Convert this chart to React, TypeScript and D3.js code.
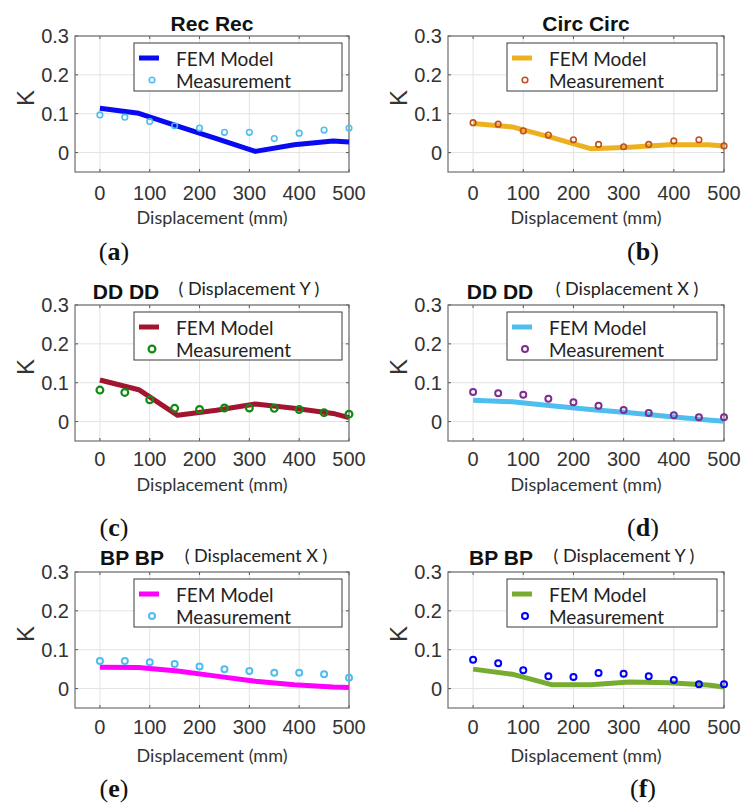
import React from 'react';
import * as d3 from 'd3';

// ---------- data ----------
const measX = [0, 50, 100, 150, 200, 250, 300, 350, 400, 450, 500];
const femX = [0, 78, 156, 234, 312, 390, 468, 500];
const xTicks = [0, 100, 200, 300, 400, 500];
const yTicks = [0, 0.1, 0.2, 0.3];
const yTickLabels = ['0', '0.1', '0.2', '0.3'];

const femRec = [0.114, 0.101, 0.068, 0.036, 0.003, 0.020, 0.030, 0.027];
const measRec = [0.097, 0.091, 0.080, 0.069, 0.063, 0.052, 0.052, 0.036, 0.050, 0.058, 0.063];

const femCirc = [0.075, 0.066, 0.039, 0.010, 0.014, 0.020, 0.020, 0.017];
const measCirc = [0.077, 0.073, 0.056, 0.045, 0.033, 0.021, 0.015, 0.021, 0.030, 0.033, 0.017];

const femDDY = [0.107, 0.082, 0.016, 0.029, 0.045, 0.034, 0.021, 0.010];
const measDDY = [0.081, 0.075, 0.056, 0.034, 0.031, 0.035, 0.035, 0.034, 0.031, 0.023, 0.019];

const femDDX = [0.055, 0.051, 0.041, 0.031, 0.023, 0.013, 0.004, 0.001];
const measDDX = [0.076, 0.073, 0.069, 0.059, 0.050, 0.041, 0.030, 0.022, 0.016, 0.011, 0.011];

const femBPX = [0.055, 0.054, 0.045, 0.032, 0.019, 0.010, 0.004, 0.003];
const measBPX = [0.071, 0.071, 0.068, 0.063, 0.057, 0.050, 0.045, 0.041, 0.041, 0.037, 0.028];

const femBPY = [0.050, 0.037, 0.010, 0.010, 0.017, 0.015, 0.009, 0.004];
const measBPY = [0.074, 0.065, 0.047, 0.032, 0.030, 0.040, 0.038, 0.032, 0.022, 0.011, 0.011];

const legendLabels = ['FEM Model', 'Measurement'];
const xLabel = 'Displacement (mm)';
const yLabel = 'K';

// ---------- layout / style ----------
const cols = [
  { left: 75, right: 349, captionX: 114 },
  { left: 448, right: 724, captionX: 643 },
];
const rows = [
  { top: 36, bottom: 172, titleY: 23, subY: 23, tickY: 193, xlabelY: 217, captionY: 251 },
  { top: 305, bottom: 441, titleY: 291, subY: 288, tickY: 459, xlabelY: 484, captionY: 527 },
  { top: 572, bottom: 708, titleY: 557, subY: 555, tickY: 727, xlabelY: 755, captionY: 788 },
];

const panels = [
  { cap: 'a', row: 0, col: 0, title: 'Rec Rec', sub: '', titleX: 212, subX: 0, fem: femRec, meas: measRec, femColor: '#0a0af0', measColor: '#4dbeee', r: 2.8, sw: 1.6 },
  { cap: 'b', row: 0, col: 1, title: 'Circ Circ', sub: '', titleX: 586, subX: 0, fem: femCirc, meas: measCirc, femColor: '#edb120', measColor: '#c0501e', r: 2.8, sw: 1.6 },
  { cap: 'c', row: 1, col: 0, title: 'DD DD', sub: '( Displacement Y )', titleX: 126, subX: 249, fem: femDDY, meas: measDDY, femColor: '#a2142f', measColor: '#128a12', r: 3.4, sw: 2.2 },
  { cap: 'd', row: 1, col: 1, title: 'DD DD', sub: '( Displacement X )', titleX: 500, subX: 627, fem: femDDX, meas: measDDX, femColor: '#4dbeee', measColor: '#7e2f8e', r: 3.0, sw: 2.0 },
  { cap: 'e', row: 2, col: 0, title: 'BP BP', sub: '( Displacement X )', titleX: 132, subX: 256, fem: femBPX, meas: measBPX, femColor: '#ff00ff', measColor: '#4dbeee', r: 3.0, sw: 2.0 },
  { cap: 'f', row: 2, col: 1, title: 'BP BP', sub: '( Displacement Y )', titleX: 501, subX: 624, fem: femBPY, meas: measBPY, femColor: '#77ac30', measColor: '#0000ff', r: 3.0, sw: 2.0 },
];

const SANS = 'Liberation Sans, Arial, sans-serif';
const HUMAN = 'Lato, Carlito, Calibri, sans-serif';
const SERIF = 'Liberation Serif, Times New Roman, serif';

function Panel({ p }: { p: any }) {
  const c = cols[p.col];
  const r = rows[p.row];
  const x = d3.scaleLinear().domain([-50, 500]).range([c.left, c.right]);
  const y = d3.scaleLinear().domain([-0.05, 0.3]).range([r.bottom, r.top]);
  const femData = femX.map((v, i) => [v, p.fem[i]] as [number, number]);
  const line = d3
    .line<[number, number]>()
    .x((d) => x(d[0]))
    .y((d) => y(d[1]));
  const lx = c.left + 59;
  const lw = c.right - 7 - lx;
  const ly = r.top + 7;
  const lh = 48;
  const tick = 3;
  return (
    <g>
      {xTicks.map((t) => (
        <line key={'gx' + t} x1={x(t)} x2={x(t)} y1={r.top} y2={r.bottom} stroke="#e3e3e3" strokeWidth={1} />
      ))}
      {yTicks.map((t) => (
        <line key={'gy' + t} x1={c.left} x2={c.right} y1={y(t)} y2={y(t)} stroke="#e3e3e3" strokeWidth={1} />
      ))}
      {xTicks.map((t) => (
        <g key={'tx' + t}>
          <line x1={x(t)} x2={x(t)} y1={r.bottom} y2={r.bottom - tick} stroke="#555" />
          <line x1={x(t)} x2={x(t)} y1={r.top} y2={r.top + tick} stroke="#555" />
        </g>
      ))}
      {yTicks.map((t) => (
        <g key={'ty' + t}>
          <line x1={c.left} x2={c.left + tick} y1={y(t)} y2={y(t)} stroke="#555" />
          <line x1={c.right} x2={c.right - tick} y1={y(t)} y2={y(t)} stroke="#555" />
        </g>
      ))}
      <rect x={c.left} y={r.top} width={c.right - c.left} height={r.bottom - r.top} fill="none" stroke="#6e6e6e" strokeWidth={1.2} />
      <path d={line(femData) || ''} fill="none" stroke={p.femColor} strokeWidth={5} strokeLinejoin="round" />
      {measX.map((v, i) => (
        <circle key={'m' + i} cx={x(v)} cy={y(p.meas[i])} r={p.r} fill="none" stroke={p.measColor} strokeWidth={p.sw} />
      ))}
      <rect x={lx} y={ly} width={lw} height={lh} fill="#fff" stroke="#3a3a3a" strokeWidth={1} />
      <line x1={lx + 5} x2={lx + 25} y1={ly + 15} y2={ly + 15} stroke={p.femColor} strokeWidth={5} />
      <circle cx={lx + 18} cy={ly + 37} r={p.r} fill="none" stroke={p.measColor} strokeWidth={p.sw} />
      <text x={lx + 42} y={ly + 15} dominantBaseline="central" fontFamily={HUMAN} fontSize={19} fill="#222">{legendLabels[0]}</text>
      <text x={lx + 42} y={ly + 37} dominantBaseline="central" fontFamily={HUMAN} fontSize={19} fill="#222">{legendLabels[1]}</text>
      {xTicks.map((t) => (
        <text key={'xl' + t} x={x(t)} y={r.tickY} textAnchor="middle" dominantBaseline="central" fontFamily={SANS} fontSize={20} fill="#333">{t}</text>
      ))}
      {yTicks.map((t, i) => (
        <text key={'yl' + t} x={c.left - 6} y={y(t)} textAnchor="end" dominantBaseline="central" fontFamily={SANS} fontSize={20} fill="#333">{yTickLabels[i]}</text>
      ))}
      <text x={(x(-50) + x(500)) / 2} y={r.xlabelY} textAnchor="middle" dominantBaseline="central" fontFamily={HUMAN} fontSize={18} fill="#333">{xLabel}</text>
      <text transform={`translate(${c.left - 50},${r.top + 62}) rotate(-90)`} textAnchor="middle" dominantBaseline="central" fontFamily={SANS} fontSize={24} fill="#333">{yLabel}</text>
      <text x={p.titleX} y={r.titleY} textAnchor="middle" dominantBaseline="central" fontFamily={SANS} fontWeight="bold" fontSize={21} fill="#111">{p.title}</text>
      {p.sub && (
        <text x={p.subX} y={r.subY} textAnchor="middle" dominantBaseline="central" fontFamily={HUMAN} fontSize={18} fill="#222">{p.sub}</text>
      )}
      <text x={c.captionX} y={r.captionY} textAnchor="middle" dominantBaseline="central" fontFamily={SERIF} fontSize={26} fill="#111">
        (<tspan fontWeight="bold">{p.cap}</tspan>)
      </text>
    </g>
  );
}

export default function App() {
  return (
    <svg width={742} height={803} viewBox="0 0 742 803" style={{ position: 'absolute', left: 0, top: 0, background: '#fff' }}>
      <rect x={0} y={0} width={742} height={803} fill="#fff" />
      {panels.map((p) => (
        <Panel key={p.cap} p={p} />
      ))}
    </svg>
  );
}
